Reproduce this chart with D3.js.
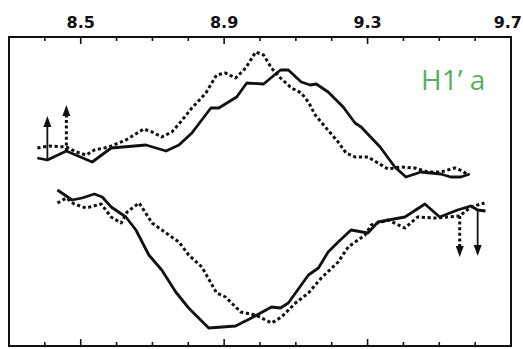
<!DOCTYPE html>
<html><head><meta charset="utf-8">
<script src="https://cdn.jsdelivr.net/npm/d3@7"></script>
<style>body{margin:0;background:#fff}svg{display:block}</style>
</head><body>
<svg id="chart" width="523" height="349"></svg>
<script>
// Chemical shift axis (ppm) tick labels
const tickLabels = [8.5, 8.9, 9.3, 9.7];
const minorTicks = [8.4, 8.5, 8.6, 8.7, 8.8, 8.9, 9.0, 9.1, 9.2, 9.3, 9.4, 9.5, 9.6];
const panelLabel = "H1\u2019 a";

// Upper trace, solid
const upSolidX = [8.379,8.407,8.460,8.532,8.585,8.682,8.738,8.774,8.810,8.863,8.885,8.935,8.963,9.010,9.057,9.079,9.115,9.140,9.157,9.190,9.232,9.265,9.282,9.335,9.376,9.407,9.449,9.476,9.504,9.532,9.560,9.585];
const upSolidY = [188,186,195,184,198,201,195,201,213,238,238,249,263,262,276,276,264,261,262,254,239,223,219,199,179,169,174,173,172,169,169,172];
// Upper trace, dashed
const upDashX = [8.379,8.413,8.460,8.488,8.515,8.538,8.579,8.626,8.676,8.699,8.726,8.754,8.774,8.810,8.849,8.879,8.904,8.932,8.960,8.988,9.010,9.032,9.057,9.088,9.115,9.135,9.154,9.182,9.218,9.240,9.265,9.301,9.329,9.357,9.393,9.432,9.468,9.504,9.543,9.565,9.579];
const upDashY = [198,200,199,194,191,196,199,206,217,214,209,214,222,238,253,271,273,268,278,294,291,278,268,258,253,244,231,219,204,193,189,189,183,177,179,178,174,174,178,175,171];
// Lower trace, solid
const loSolidX = [8.435,8.476,8.504,8.538,8.560,8.585,8.626,8.654,8.690,8.726,8.765,8.801,8.857,8.932,8.976,9.032,9.057,9.079,9.135,9.163,9.190,9.218,9.254,9.301,9.329,9.404,9.460,9.501,9.551,9.588,9.607,9.629];
const loSolidY = [156,146,148,152,149,139,129,116,91,76,54,38,18,20,28,39,38,43,71,78,94,104,116,113,124,129,142,129,136,140,136,135];
// Lower trace, dashed
const loDashX = [8.435,8.460,8.482,8.515,8.557,8.585,8.613,8.629,8.663,8.699,8.738,8.774,8.801,8.838,8.879,8.904,8.946,8.988,9.032,9.060,9.099,9.135,9.171,9.218,9.246,9.293,9.310,9.357,9.404,9.440,9.488,9.524,9.557,9.588,9.626];
const loDashY = [143,148,142,138,142,129,123,134,143,123,113,104,91,79,53,49,34,31,23,29,43,53,68,84,99,111,121,126,118,129,128,129,130,139,143];

// Arrows: [x, from, to]
const arrowsSolid = [[8.407,186,230],[9.607,136,90]];
const arrowsDash = [[8.460,195,241],[9.557,130,89]];

(function(){
const svg = d3.select("#chart");
const L = 9, R = 511, T = 37, B = 346;
const x = d3.scaleLinear().domain([8.3, 9.7]).range([L, R]);
const y = d3.scaleLinear().domain([0, 309]).range([B, T]);

// frame
svg.append("rect").attr("x", L).attr("y", T)
  .attr("width", R-L).attr("height", B-T)
  .attr("fill", "none").attr("stroke", "#111").attr("stroke-width", 2);

// ticks top and bottom
const isMajor = v => tickLabels.some(t => Math.abs(t - v) < 1e-6);
minorTicks.forEach(v => {
  const len = isMajor(v) ? 7 : 4;
  svg.append("line").attr("x1", x(v)).attr("x2", x(v)).attr("y1", T).attr("y2", T+len)
    .attr("stroke", "#111").attr("stroke-width", 1.6);
  svg.append("line").attr("x1", x(v)).attr("x2", x(v)).attr("y1", B).attr("y2", B-len)
    .attr("stroke", "#111").attr("stroke-width", 1.6);
});
svg.selectAll("text.tl").data(tickLabels).enter().append("text")
  .attr("class","tl")
  .attr("x", d => d === 9.7 ? 522 : x(d)).attr("y", 28)
  .attr("text-anchor", d => d === 9.7 ? "end" : "middle")
  .attr("font-family", "DejaVu Sans, sans-serif").attr("font-weight", "bold")
  .attr("font-size", 16).attr("fill", "#111")
  .text(d => d.toFixed(1));

const line = d3.line().x(d => x(d[0])).y(d => y(d[1]));
function drawLine(xs, ys, dashed) {
  svg.append("path").datum(xs.map((v,i)=>[v, ys[i]]))
    .attr("d", line).attr("fill", "none").attr("stroke", "#111")
    .attr("stroke-width", dashed ? 3 : 2.8).attr("stroke-linejoin", "round")
    .attr("stroke-dasharray", dashed ? "3.2,2.6" : null);
}
drawLine(upSolidX, upSolidY, false);
drawLine(upDashX, upDashY, true);
drawLine(loSolidX, loSolidY, false);
drawLine(loDashX, loDashY, true);

function drawArrow(a, dashed) {
  const [xv, y0, y1] = a;
  const dir = y1 > y0 ? 1 : -1;
  const px = x(xv), p0 = y(y0), p1 = y(y1);
  const headLen = 11, headW = 4;
  const shaftEnd = p1 + (dir > 0 ? headLen : -headLen);
  svg.append("line").attr("x1", px).attr("x2", px).attr("y1", p0).attr("y2", shaftEnd)
    .attr("stroke", "#111").attr("stroke-width", dashed ? 3 : 1.8)
    .attr("stroke-dasharray", dashed ? "3,2.6" : null);
  svg.append("path")
    .attr("d", `M${px},${p1} L${px-headW},${shaftEnd} L${px+headW},${shaftEnd} Z`)
    .attr("fill", "#111");
}
arrowsSolid.forEach(a => drawArrow(a, false));
arrowsDash.forEach(a => drawArrow(a, true));

svg.append("text").attr("x", 421).attr("y", 90)
  .attr("font-family", "Open Sans, sans-serif").attr("font-size", 28)
  .attr("fill", "#5aae5a").text(panelLabel);
})();
</script>
</body></html>
